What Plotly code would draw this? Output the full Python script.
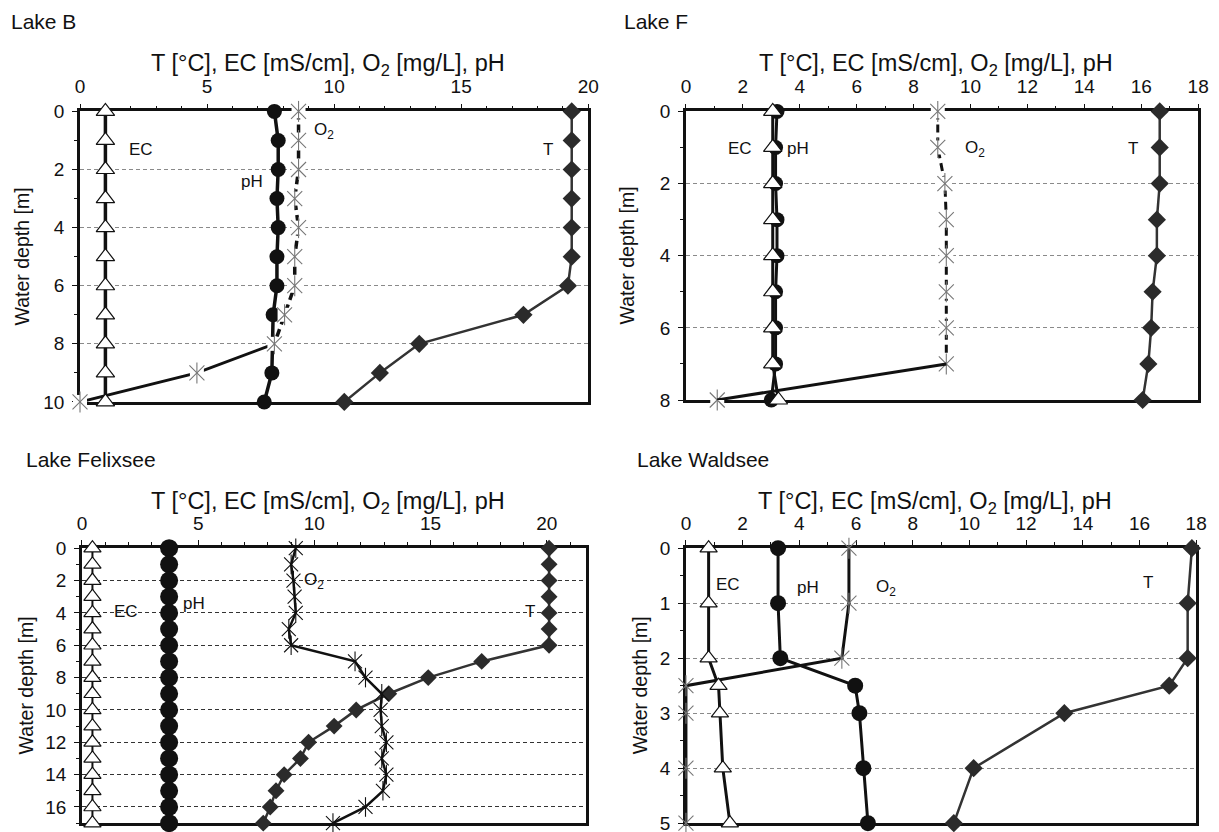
import plotly.graph_objects as go

# Figure is drawn at the page origin (body margin removed); it is a little
# taller than the window so the lower panels run off the bottom edge.
W, H = 1219, 840
FONT = "Arial, Liberation Sans, sans-serif"
INK = "#111111"

# ---------------- data ----------------
# Lake B
b_depth = [0, 1, 2, 3, 4, 5, 6, 7, 8, 9, 10]
b_T = [19.35, 19.35, 19.35, 19.35, 19.35, 19.35, 19.2, 17.45, 13.35, 11.8, 10.4]
b_EC = [1.0, 1.0, 1.0, 1.0, 1.0, 1.0, 1.0, 1.0, 1.0, 1.0, 1.0]
b_pH_depth = [0, 1, 2, 3, 4, 5, 6, 7, 9, 10]
b_pH = [7.65, 7.8, 7.8, 7.75, 7.8, 7.75, 7.75, 7.6, 7.55, 7.25]
b_O2 = [8.6, 8.6, 8.6, 8.45, 8.6, 8.45, 8.45, 8.05, 7.65, 4.6, 0.0]

# Lake F
f_depth = [0, 1, 2, 3, 4, 5, 6, 7, 8]
f_T = [16.65, 16.65, 16.65, 16.55, 16.55, 16.4, 16.35, 16.25, 16.05]
f_EC = [3.05, 3.05, 3.05, 3.05, 3.05, 3.05, 3.05, 3.05, 3.25]
f_pH = [3.2, 3.15, 3.15, 3.2, 3.2, 3.15, 3.15, 3.15, 3.0]
f_O2 = [8.85, 8.85, 9.1, 9.15, 9.15, 9.15, 9.15, 9.15, 1.1]

# Lake Felixsee
x_depth = [0, 1, 2, 3, 4, 5, 6, 7, 8, 9, 10, 11, 12, 13, 14, 15, 16, 17]
x_T = [20.1, 20.1, 20.1, 20.1, 20.1, 20.1, 20.1, 17.2, 14.9, 13.2, 11.8,
       10.85, 9.75, 9.4, 8.7, 8.35, 8.1, 7.8]
x_EC = [0.45, 0.45, 0.45, 0.45, 0.45, 0.45, 0.45, 0.45, 0.45,
        0.45, 0.45, 0.45, 0.45, 0.45, 0.45, 0.45, 0.45, 0.45]
x_pH = [3.75, 3.75, 3.75, 3.75, 3.75, 3.75, 3.75, 3.75, 3.75,
        3.75, 3.75, 3.75, 3.75, 3.75, 3.75, 3.75, 3.75, 3.75]
x_O2 = [9.2, 9.0, 9.1, 9.15, 9.2, 8.9, 9.0, 11.75, 12.2, 12.9, 12.85,
        12.9, 13.1, 12.9, 13.1, 12.95, 12.2, 10.8]

# Lake Waldsee
w_depth = [0, 1, 2, 2.5, 3, 4, 5]
w_T = [17.85, 17.7, 17.7, 17.05, 13.35, 10.15, 9.45]
w_EC = [0.8, 0.8, 0.8, 1.15, 1.2, 1.3, 1.55]
w_pH = [3.25, 3.25, 3.33, 5.97, 6.12, 6.26, 6.42]
w_O2 = [5.75, 5.75, 5.5, 0.0, 0.0, 0.0, 0.0]

x_title = "T [°C], EC [mS/cm], O<sub>2</sub> [mg/L], pH"
y_title = "Water depth [m]"

# panel geometry in pixels and axis settings
panels = [
    dict(title="Lake B", tpos=(4, 12), box=(76, 591, 104, 402), xr=[0, 20], xd=5,
         yr=[10, 0], yd=2, ym=1, ytx=17, xtoff=48, grid="#8a8a8a"),
    dict(title="Lake F", tpos=(625, 12), box=(690, 1209, 104, 400), xr=[0, 18], xd=2,
         yr=[8, 0], yd=2, ym=1, ytx=630, xtoff=48, grid="#8a8a8a"),
    dict(title="Lake Felixsee", tpos=(19, 461), box=(78, 589, 552, 834), xr=[0, 21.7], xd=5,
         yr=[17, 0], yd=2, ym=1, ytx=21, xtoff=47, grid="#333333"),
    dict(title="Lake Waldsee", tpos=(638, 461), box=(690, 1207, 552, 834), xr=[0, 18], xd=2,
         yr=[5, 0], yd=1, ym=0.5, ytx=643, xtoff=47, grid="#8a8a8a"),
]


def fx(px):
    return px / W


def fy(py):
    return 1 - py / H


fig = go.Figure()
layout = dict(width=W, height=H, margin=dict(l=0, r=0, t=0, b=0),
              paper_bgcolor="white", plot_bgcolor="white", showlegend=False,
              font=dict(family=FONT, color=INK))
annotations = []

for i, p in enumerate(panels):
    n = "" if i == 0 else str(i + 1)
    l, r, t, b = p["box"]
    layout["xaxis" + n] = dict(
        domain=[fx(l), fx(r)], anchor="y" + n, side="top", range=p["xr"],
        tick0=0, dtick=p["xd"], ticks="outside", ticklen=5, tickwidth=1.3, tickcolor=INK,
        minor=dict(dtick=1, ticks="outside", ticklen=3, tickwidth=1, tickcolor=INK),
        showline=True, linewidth=2.5, linecolor=INK, mirror=True,
        showgrid=False, zeroline=False, layer="below traces",
        tickfont=dict(size=19, color=INK), ticklabelstandoff=3, fixedrange=True)
    layout["yaxis" + n] = dict(
        domain=[fy(b), fy(t)], anchor="x" + n, range=p["yr"],
        tick0=0, dtick=p["yd"], ticks="outside", ticklen=5, tickwidth=1.3, tickcolor=INK,
        minor=dict(dtick=p["ym"], ticks="outside", ticklen=3, tickwidth=1, tickcolor=INK,
                   showgrid=False),
        showline=True, linewidth=2.5, linecolor=INK, mirror=True,
        showgrid=True, gridcolor=p["grid"], gridwidth=1, griddash="4px,3px",
        zeroline=False, layer="below traces",
        tickfont=dict(size=19, color=INK), ticklabelstandoff=4, fixedrange=True)
    # panel title
    annotations.append(dict(text=p["title"], x=fx(p["tpos"][0]), y=fy(p["tpos"][1]),
                            xref="paper", yref="paper", xanchor="left", yanchor="middle",
                            showarrow=False, font=dict(size=21, color=INK)))
    # x axis title
    annotations.append(dict(text=x_title, x=fx((l + r) / 2 - 6), y=fy(t - p["xtoff"]),
                            xref="paper", yref="paper", xanchor="center", yanchor="middle",
                            showarrow=False, font=dict(size=23.5, color=INK)))
    # y axis title
    annotations.append(dict(text=y_title, x=fx(p["ytx"]), y=fy((t + b) / 2),
                            xref="paper", yref="paper", xanchor="center", yanchor="middle",
                            textangle=-90, showarrow=False, font=dict(size=19.5, color=INK)))


def ax(i):
    n = "" if i == 0 else str(i + 1)
    return dict(xaxis="x" + n, yaxis="y" + n, cliponaxis=False, hoverinfo="skip")


def t_trace(i, xs, ys, size=13):
    fig.add_trace(go.Scatter(x=xs, y=ys, mode="lines+markers",
                             line=dict(color="#333333", width=2.5),
                             marker=dict(symbol="diamond", size=size, color="#2b2b2b",
                                         line=dict(width=0)), **ax(i)))


def ph_trace(i, xs, ys, size=15, width=3.5):
    fig.add_trace(go.Scatter(x=xs, y=ys, mode="lines+markers",
                             line=dict(color=INK, width=width),
                             marker=dict(symbol="circle", size=size, color=INK,
                                         line=dict(width=0)), **ax(i)))


def ec_trace(i, xs, ys, size=15, width=3.5):
    fig.add_trace(go.Scatter(x=xs, y=ys, mode="lines+markers",
                             line=dict(color=INK, width=width),
                             marker=dict(symbol="triangle-up", size=size, color="white",
                                         line=dict(color=INK, width=1.2)), **ax(i)))


def o2_line(i, xs, ys, dash="solid", width=3.5):
    fig.add_trace(go.Scatter(x=xs, y=ys, mode="lines",
                             line=dict(color=INK, width=width, dash=dash), **ax(i)))


def o2_marks(i, xs, ys, color="#777777", bg=True, size=15):
    if bg:
        fig.add_trace(go.Scatter(x=xs, y=ys, mode="markers",
                                 marker=dict(symbol="square", size=14, color="white",
                                             line=dict(width=0)), **ax(i)))
    for sym in ["x-thin-open", "line-ns-open"]:
        fig.add_trace(go.Scatter(x=xs, y=ys, mode="markers",
                                 marker=dict(symbol=sym, size=size, color=color,
                                             line=dict(color=color, width=1.1)), **ax(i)))


# ---- Lake B ----
t_trace(0, b_T, b_depth, size=14)
ph_trace(0, b_pH, b_pH_depth)
o2_line(0, b_O2[:9], b_depth[:9], dash="8px,5px")
o2_line(0, b_O2[8:], b_depth[8:], dash="solid", width=3)
o2_marks(0, b_O2, b_depth)
ec_trace(0, b_EC, b_depth, size=16, width=3.5)

# ---- Lake F ----
t_trace(1, f_T, f_depth, size=14)
ph_trace(1, f_pH, f_depth, size=15, width=3)
o2_line(1, f_O2[:8], f_depth[:8], dash="8px,5px", width=3)
o2_marks(1, f_O2, f_depth)
ec_trace(1, f_EC, f_depth, size=16, width=3)
o2_line(1, f_O2[7:], f_depth[7:], dash="solid", width=3)

# ---- Lake Felixsee ----
t_trace(2, x_T, x_depth, size=13)
ec_trace(2, x_EC, x_depth, size=15, width=2)
ph_trace(2, x_pH, x_depth, size=18, width=3)
o2_line(2, x_O2, x_depth, width=2.5)
o2_marks(2, x_O2, x_depth, color=INK, bg=False, size=14)

# ---- Lake Waldsee ----
t_trace(3, w_T, w_depth, size=14)
o2_line(3, w_O2, w_depth, width=3)
o2_marks(3, w_O2, w_depth, color="#777777", bg=False, size=15)
ph_trace(3, w_pH, w_depth, size=16, width=3)
ec_trace(3, w_EC, w_depth, size=15, width=3)

# ---- series labels ----
labels = [
    (0, "EC", 2.4, 1.3), (0, "pH", 6.75, 2.4), (0, "O<sub>2</sub>", 9.6, 0.66), (0, "T", 18.4, 1.3),
    (1, "EC", 1.9, 1.03), (1, "pH", 3.95, 1.03), (1, "O<sub>2</sub>", 10.15, 1.05), (1, "T", 15.7, 1.03),
    (2, "EC", 1.9, 3.93), (2, "pH", 4.8, 3.43), (2, "O<sub>2</sub>", 10.0, 2.0), (2, "T", 19.3, 3.93),
    (3, "EC", 1.5, 0.66), (3, "pH", 4.3, 0.72), (3, "O<sub>2</sub>", 7.05, 0.72), (3, "T", 16.3, 0.63),
]
for i, txt, xv, yv in labels:
    n = "" if i == 0 else str(i + 1)
    annotations.append(dict(text=txt, x=xv, y=yv, xref="x" + n, yref="y" + n,
                            showarrow=False, xanchor="center", yanchor="middle",
                            font=dict(size=17, color=INK)))

layout["annotations"] = annotations
fig.update_layout(**layout)
fig.write_html("out.html", config={"displayModeBar": False},
               post_script="document.body.style.margin='0';document.body.style.padding='0';"
                           "document.documentElement.style.overflow='hidden';"
                           "document.body.style.overflow='hidden';")
